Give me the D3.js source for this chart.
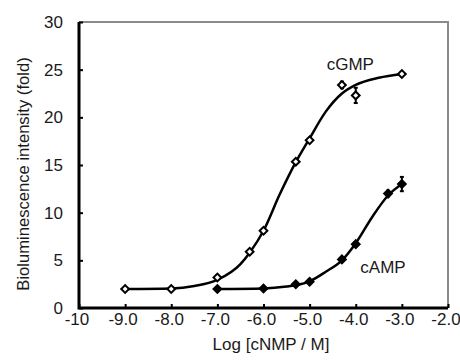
<!DOCTYPE html>
<html>
<head>
<meta charset="utf-8">
<script src="https://cdn.jsdelivr.net/npm/d3@7"></script>
<style>
  body { margin: 0; background: #fff; }
  text { font-family: Arial, "Liberation Sans", sans-serif; fill: #1a1a1a; }
</style>
</head>
<body>
<div class="graph"></div>
<script>
const cgmpLog  = [-9.0, -8.0, -7.0, -6.3, -6.0, -5.3, -5.0, -4.3, -4.0, -3.0];
const cgmpFold = [2.0, 2.0, 3.2, 5.9, 8.1, 15.35, 17.6, 23.4, 22.3, 24.55];
const cgmpErr  = [0, 0, 0, 0, 0, 0, 0, 0.35, 0.8, 0.2];

const campLog  = [-7.0, -6.0, -5.3, -5.0, -4.3, -4.0, -3.3, -3.0];
const campFold = [2.0, 2.05, 2.5, 2.75, 5.1, 6.7, 12.0, 13.0];
const campErr  = [0, 0, 0, 0, 0, 0, 0.3, 0.75];

// fitted curves at a few positions
const cgmpFitLog  = [-9.0, -8.0, -7.5, -7.0, -6.5, -6.3, -6.0, -5.65, -5.3, -5.0, -4.65, -4.3, -4.0, -3.5, -3.0];
const cgmpFitFold = [2.0, 2.05, 2.3, 2.95, 4.6, 5.8, 8.1, 11.9, 15.3, 17.8, 20.6, 22.5, 23.4, 24.15, 24.55];

const campFitLog  = [-7.0, -6.0, -5.5, -5.3, -5.0, -4.65, -4.3, -4.0, -3.65, -3.3, -3.0];
const campFitFold = [2.0, 2.05, 2.25, 2.4, 2.8, 3.8, 5.0, 6.8, 9.5, 11.8, 13.0];

const xTicks = [-10, -9, -8, -7, -6, -5, -4, -3, -2];
const xTickLabels = ["-10", "-9.0", "-8.0", "-7.0", "-6.0", "-5.0", "-4.0", "-3.0", "-2.0"];
const yTicks = [0, 5, 10, 15, 20, 25, 30];

//dimensions
const SIZE = {X: 460, Y: 363};
const MARGIN = {TOP: 22, BOTTOM: 55, LEFT: 79, RIGHT: 12};
const DIM = {WIDTH: SIZE.X - MARGIN.LEFT - MARGIN.RIGHT,
             HEIGHT: SIZE.Y - MARGIN.TOP - MARGIN.BOTTOM};

const svg = d3.select(".graph").append("svg")
    .attr("width", SIZE.X)
    .attr("height", SIZE.Y);

svg.append("rect").attr("width", SIZE.X).attr("height", SIZE.Y).attr("fill", "#fff");

const graph = svg.append("g")
    .attr("transform", `translate(${MARGIN.LEFT}, ${MARGIN.TOP})`);

//scales
const x = d3.scaleLinear().domain([-10, -2]).range([0, DIM.WIDTH]);
const y = d3.scaleLinear().domain([0, 30]).range([DIM.HEIGHT, 0]);

//grey top/right frame
graph.append("path")
    .attr("d", `M0,0H${DIM.WIDTH}V${DIM.HEIGHT}`)
    .attr("fill", "none")
    .attr("stroke", "#8a8a8a")
    .attr("stroke-width", 2);

//axes (ticks pointing inward)
const xAxis = graph.append("g")
    .attr("transform", `translate(0, ${DIM.HEIGHT})`)
    .call(d3.axisBottom(x).tickValues(xTicks)
        .tickFormat((d, i) => xTickLabels[i])
        .tickSize(-4).tickPadding(5));

const yAxis = graph.append("g")
    .call(d3.axisLeft(y).tickValues(yTicks)
        .tickSize(-4).tickPadding(16));

[xAxis, yAxis].forEach(a => {
    a.select(".domain").remove();
    a.selectAll(".tick line").attr("stroke", "#000").attr("stroke-width", 2);
    a.selectAll("text").attr("font-size", 17).attr("fill", "#1a1a1a")
        .style("font-family", "Arial, 'Liberation Sans', sans-serif");
});
xAxis.selectAll(".tick text").attr("dx", "-0.15em");

//black left/bottom axis lines
graph.append("path")
    .attr("d", `M0,0V${DIM.HEIGHT}H${DIM.WIDTH}`)
    .attr("fill", "none")
    .attr("stroke", "#000")
    .attr("stroke-width", 3);

//axis titles
svg.append("text")
    .attr("x", 271)
    .attr("y", 350)
    .attr("text-anchor", "middle")
    .attr("font-size", 17)
    .text("Log [cNMP / M]");

svg.append("text")
    .attr("transform", "translate(29, 174) rotate(-90)")
    .attr("text-anchor", "middle")
    .attr("font-size", 16.6)
    .text("Bioluminescence intensity (fold)");

//series
const series = [
    {name: "cGMP", xs: cgmpLog, ys: cgmpFold, err: cgmpErr, fx: cgmpFitLog, fy: cgmpFitFold,
     fill: "#fff", label: [-4.63, 24.95]},
    {name: "cAMP", xs: campLog, ys: campFold, err: campErr, fx: campFitLog, fy: campFitFold,
     fill: "#000", label: [-3.9, 3.65]}
];

const line = d3.line()
    .x(d => x(d[0]))
    .y(d => y(d[1]))
    .curve(d3.curveMonotoneX);

const diamond = d3.symbol().type(d3.symbolSquare).size(30);

series.forEach(s => {
    const pts = s.xs.map((v, i) => [v, s.ys[i], s.err[i]]);
    const fit = s.fx.map((v, i) => [v, s.fy[i]]);

    graph.append("path")
        .datum(fit)
        .attr("d", line)
        .attr("fill", "none")
        .attr("stroke", "#000")
        .attr("stroke-width", 2.5);

    //error bars
    const eb = graph.selectAll(null)
        .data(pts.filter(d => d[2] > 0))
        .enter().append("g");
    eb.append("line")
        .attr("x1", d => x(d[0])).attr("x2", d => x(d[0]))
        .attr("y1", d => y(d[1] - d[2])).attr("y2", d => y(d[1] + d[2]))
        .attr("stroke", "#000").attr("stroke-width", 2);
    eb.selectAll(null)
        .data(d => [[d[0], d[1] - d[2]], [d[0], d[1] + d[2]]])
        .enter().append("line")
        .attr("x1", d => x(d[0]) - 2).attr("x2", d => x(d[0]) + 2)
        .attr("y1", d => y(d[1])).attr("y2", d => y(d[1]))
        .attr("stroke", "#000").attr("stroke-width", 2);

    //markers
    graph.selectAll(null)
        .data(pts)
        .enter().append("path")
        .attr("d", diamond)
        .attr("transform", d => `translate(${x(d[0])}, ${y(d[1])}) rotate(45)`)
        .attr("fill", s.fill)
        .attr("stroke", "#000")
        .attr("stroke-width", 2);

    graph.append("text")
        .attr("x", x(s.label[0]))
        .attr("y", y(s.label[1]))
        .attr("font-size", 17)
        .text(s.name);
});
</script>
</body>
</html>
